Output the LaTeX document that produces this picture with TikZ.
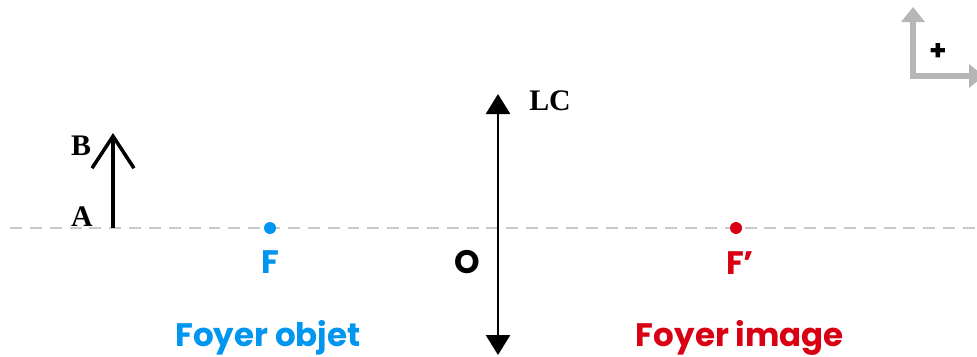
\documentclass[tikz,border=0pt]{standalone}
\usepackage{fontspec}
\setmainfont{Liberation Serif}
\newfontfamily\foyerfont{Poppins}
\usetikzlibrary{arrows.meta}
\definecolor{axegris}{RGB}{200,200,200}
\definecolor{repgris}{RGB}{182,182,182}
\definecolor{bleuF}{RGB}{0,150,240}
\definecolor{rougeF}{RGB}{218,0,20}

\begin{document}
\begin{tikzpicture}[x=0.02cm, y=-0.02cm,
    foyer/.style={circle, fill, inner sep=0pt, minimum size=0.24cm},
    lettre/.style={anchor=base, font=\fontsize{17}{17}\selectfont\bfseries},
    nom/.style={anchor=base, font=\foyerfont\fontsize{18.5}{18.5}\selectfont\bfseries},
    repere/.style={repgris, line width=3.2pt, -{Triangle[length=0.3cm, width=0.46cm]}}
  ]
    \useasboundingbox (0,0) rectangle (977,356);

    % axe optique
    \coordinate (axeG) at (10,228);
    \coordinate (axeD) at (977,228);
    \draw[axegris, line width=1.1pt, dash pattern=on 6.8pt off 4.5pt] (axeG) -- (axeD);

    % objet AB
    \coordinate (A) at (113,228);
    \coordinate (B) at (113,133);
    \draw[line width=2pt, -{Straight Barb[length=0.64cm, width=0.84cm]}] (A) -- (B);
    \node[lettre] (nA) at (82,226) {A};
    \node[lettre] (nB) at (81,155) {B};

    % lentille convergente
    \coordinate (LChaut) at (498,94);
    \coordinate (LCbas) at (498,355);
    \draw[line width=1.6pt, {Triangle[length=0.4cm, width=0.48cm]}-{Triangle[length=0.4cm, width=0.48cm]}] (LCbas) -- (LChaut);
    \node[lettre] (nLC) at (550,110) {LC};
    \node[nom] (nO) at (467,273) {O};

    % foyers
    \node[foyer, bleuF] (F) at (270,228) {};
    \node[foyer, rougeF] (Fp) at (736,228) {};
    \node[nom, bleuF] (nF) at (270,273) {F};
    \node[nom, rougeF] (nFp) at (740,274) {F’};
    \node[nom, bleuF] (objet) at (268,346) {Foyer objet};
    \node[nom, rougeF] (image) at (740,346) {Foyer image};

    % sens positif
    \coordinate (orig) at (913,76);
    \coordinate (haut) at (913,7);
    \coordinate (droite) at (984,76);
    \draw[repere] (orig) -- (haut);
    \draw[repere] ([xshift=-1.6pt]orig) -- (droite);
    \node[font=\foyerfont\fontsize{16}{16}\selectfont\bfseries] (plus) at (938,52) {+};
\end{tikzpicture}
\end{document}
